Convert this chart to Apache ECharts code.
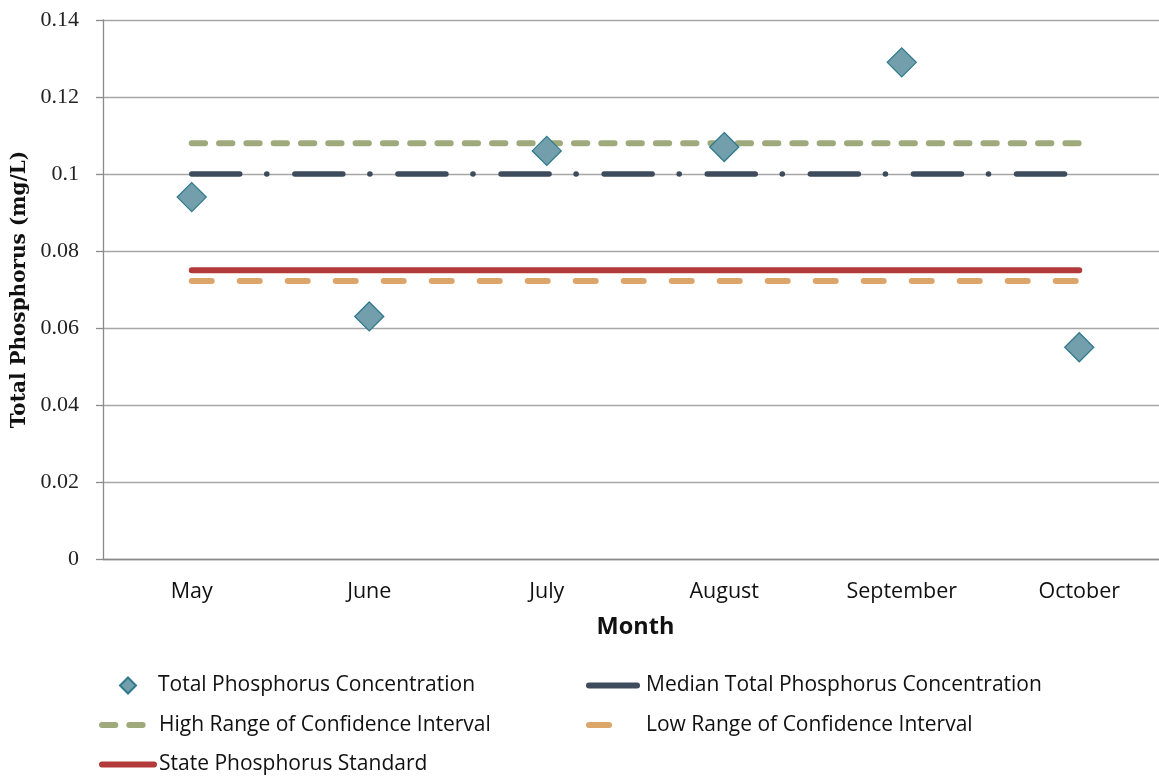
<!DOCTYPE html>
<html>
<head>
<meta charset="utf-8">
<script src="https://cdn.jsdelivr.net/npm/echarts@6/dist/echarts.min.js"></script>
<style>
  html, body { margin: 0; padding: 0; background: #fff; }
  #chart { width: 1159px; height: 776px; }
</style>
</head>
<body>
<div id="chart"></div>
<script>
// categories and values
const months = ['May', 'June', 'July', 'August', 'September', 'October'];
const tpConcentration = [0.094, 0.063, 0.106, 0.107, 0.129, 0.055];
const medianTP = [0.1, 0.1, 0.1, 0.1, 0.1, 0.1];
const highCI = [0.108, 0.108, 0.108, 0.108, 0.108, 0.108];
const lowCI = [0.0722, 0.0722, 0.0722, 0.0722, 0.0722, 0.0722];
const stateStandard = [0.075, 0.075, 0.075, 0.075, 0.075, 0.075];
const yTicks = [0, 0.02, 0.04, 0.06, 0.08, 0.1, 0.12, 0.14];

const serif = '"Liberation Serif", "DejaVu Serif", serif';
const sans = '"Open Sans", Lato, sans-serif';
const legendTop = 670;
const legendRow = 39.5;

const chart = echarts.init(document.getElementById('chart'));

// line legend entries: hide the dot echarts puts on line icons
function lineItem(name, width, dash) {
  const ls = { width: width };
  if (dash) ls.type = dash;
  return { name: name, itemStyle: { opacity: 0 }, lineStyle: ls };
}

function legendBox(left, top, items, iconWidth, textPad) {
  return {
    orient: 'vertical',
    left: left,
    top: top,
    height: 130,
    itemWidth: iconWidth,
    itemHeight: 16,
    itemGap: 18.5,
    data: items,
    textStyle: { fontFamily: sans, fontSize: 21, color: '#111', padding: [0, 0, 0, textPad] }
  };
}

chart.setOption({
  animation: false,
  backgroundColor: '#fff',
  grid: { left: 103, right: -9, top: 20, bottom: 217, outerBoundsMode: 'none' },
  legend: [
    // diamond entry on its own so the icon keeps its square shape
    legendBox(114, legendTop, [{ name: 'Total Phosphorus Concentration', icon: 'diamond' }], 16, 17),
    legendBox(94, legendTop + legendRow, [
      lineItem('High Range of Confidence Interval', 6),
      lineItem('State Phosphorus Standard', 6)
    ], 52, 0),
    legendBox(581, legendTop, [
      lineItem('Median Total Phosphorus Concentration', 6),
      lineItem('Low Range of Confidence Interval', 6, [20, 60])
    ], 52, 0)
  ],
  xAxis: {
    type: 'category',
    data: months,
    boundaryGap: true,
    name: 'Month',
    nameLocation: 'middle',
    nameGap: 56,
    nameTextStyle: { fontFamily: sans, fontSize: 23.5, fontWeight: 'bold', color: '#111' },
    axisLine: { lineStyle: { color: '#8a8a8a', width: 1.3 } },
    axisTick: { length: 8, lineStyle: { color: '#8a8a8a', width: 1.3 } },
    axisLabel: { fontFamily: sans, fontSize: 21.5, color: '#111', margin: 22 }
  },
  yAxis: {
    type: 'value',
    min: yTicks[0],
    max: yTicks[yTicks.length - 1],
    interval: 0.02,
    name: 'Total Phosphorus (mg/L)',
    nameLocation: 'middle',
    nameGap: 71,
    nameTextStyle: { fontFamily: '"DejaVu Serif", serif', fontSize: 20, fontWeight: 'bold', color: '#111' },
    axisLine: { show: true, lineStyle: { color: '#8a8a8a', width: 1.3 } },
    axisTick: { show: true, length: 7, lineStyle: { color: '#8a8a8a', width: 1.3 } },
    axisLabel: { fontFamily: serif, fontSize: 22, color: '#222', margin: 24 },
    splitLine: { lineStyle: { color: '#a6a6a6', width: 1.3 } }
  },
  series: [
    {
      name: 'Median Total Phosphorus Concentration',
      type: 'line',
      data: medianTP,
      symbol: 'none',
      color: '#3d4b5c',
      lineStyle: { color: '#3d4b5c', width: 5.5, cap: 'round', type: [48, 27, 0.1, 28] },
      z: 2
    },
    {
      name: 'High Range of Confidence Interval',
      type: 'line',
      data: highCI,
      symbol: 'none',
      color: '#9eaa7c',
      lineStyle: { color: '#9eaa7c', width: 6, cap: 'round', type: [13.3, 14] },
      z: 2
    },
    {
      name: 'Low Range of Confidence Interval',
      type: 'line',
      data: lowCI,
      symbol: 'none',
      color: '#dca66a',
      lineStyle: { color: '#dca66a', width: 6, cap: 'round', type: [20, 28] },
      z: 2
    },
    {
      name: 'State Phosphorus Standard',
      type: 'line',
      data: stateStandard,
      symbol: 'none',
      color: '#b33a3b',
      lineStyle: { color: '#b33a3b', width: 6, cap: 'round' },
      z: 2
    },
    {
      name: 'Total Phosphorus Concentration',
      type: 'scatter',
      data: tpConcentration,
      symbol: 'diamond',
      symbolSize: 29,
      itemStyle: { color: '#739fad', borderColor: '#2f7a8c', borderWidth: 1.3, opacity: 1 },
      z: 5
    }
  ]
});
</script>
</body>
</html>
